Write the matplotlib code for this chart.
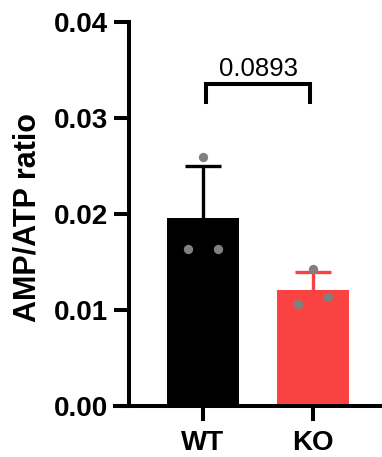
import sys
import numpy as np
from matplotlib import pyplot as plt

groups = ["WT", "KO"]
wtPoints = [0.0259, 0.01635, 0.01635]
koPoints = [0.01424, 0.01059, 0.01132]
barColors = ["#000000", "#F94343"]
pValue = "0.0893"
yTicks = [0.00, 0.01, 0.02, 0.03, 0.04]
yTickLabels = ["0.00", "0.01", "0.02", "0.03", "0.04"]
jitter = [0.0, -0.14, 0.14]


def main(argv=None):
    plt.rcParams["font.family"] = ["Liberation Sans", "DejaVu Sans"]

    fig = plt.figure(figsize=(3.82, 4.57), dpi=100)
    ax = fig.add_axes([0.301, 0.1116, 0.699, 0.8403])

    # spine placement first, it resets the ticks
    ax.spines["top"].set_visible(False)
    ax.spines["right"].set_visible(False)
    ax.spines["left"].set_position(("data", -0.673))
    ax.spines["left"].set_linewidth(2.9)
    ax.spines["bottom"].set_linewidth(2.9)
    ax.spines["left"].set_capstyle("projecting")

    allPoints = [wtPoints, koPoints]
    x = np.arange(len(groups))
    means = [np.mean(p) for p in allPoints]
    sds = [np.std(p, ddof=1) for p in allPoints]

    # bars
    ax.bar(x, means, width=0.66, color=barColors, zorder=2)

    # upper error bars only, drop the cap at the bar top
    for i in range(len(groups)):
        line, caps, bars = ax.errorbar(x[i], means[i], yerr=[[0], [sds[i]]],
                                       color=barColors[i], elinewidth=2.4,
                                       capsize=13, capthick=2.4, zorder=3)
        for cap in caps:
            if abs(cap.get_ydata()[0] - means[i]) < 1e-9:
                cap.set_visible(False)

    # individual points
    for i in range(len(groups)):
        ax.scatter(x[i] + np.array(jitter), allPoints[i], s=45, color="#808080",
                   zorder=4, linewidths=0)

    # significance bracket
    ax.plot([0.03, 0.03, 0.97, 0.97], [0.03167, 0.03354, 0.03354, 0.03167],
            color="black", lw=2.9, solid_joinstyle="miter", clip_on=False)
    ax.text(0.5, 0.0344, pValue, ha="center", va="baseline", fontsize=18.5)

    ax.set_xlim(-0.8, 1.627)
    ax.set_ylim(0, 0.04)
    ax.set_xticks(x)
    ax.set_xticklabels(groups, fontsize=20, fontweight="bold")
    ax.set_yticks(yTicks)
    ax.set_yticklabels(yTickLabels, fontsize=20, fontweight="bold")

    ax.tick_params(axis="both", width=2.9, length=11)
    ax.tick_params(axis="y", pad=4)
    ax.tick_params(axis="x", pad=6)

    ax.set_ylabel("AMP/ATP ratio", fontsize=22, fontweight="bold")
    ax.yaxis.set_label_coords(-0.27, 0.491)

    fig.savefig("out.png", dpi=100)


if __name__ == "__main__":
    sys.exit(main())
